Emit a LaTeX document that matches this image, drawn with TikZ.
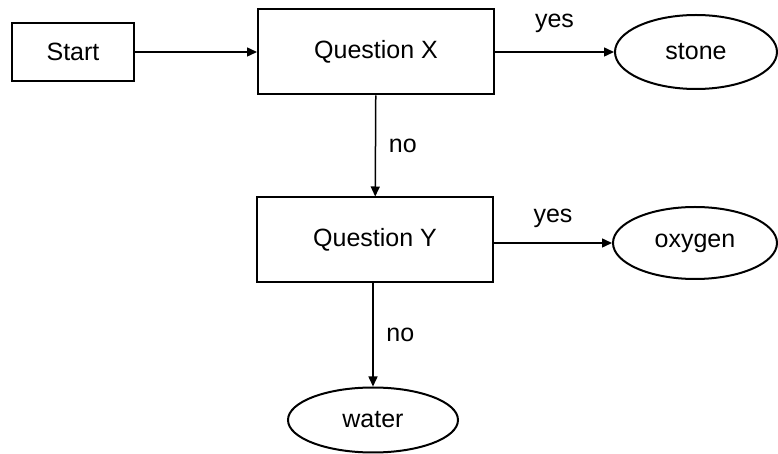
\documentclass[tikz,border=0pt]{standalone}
\usepackage{fontspec}
\setmainfont{Liberation Sans}
\usetikzlibrary{arrows.meta,shapes.geometric}

\tikzset{
  qbox/.style={draw,line width=1pt,minimum width=#1,minimum height=42.5pt,inner sep=0pt},
  answer/.style={draw,ellipse,line width=1pt,inner sep=0pt},
  flow/.style={line width=0.75pt,-{Triangle[length=5pt,width=4.5pt]}}
}

\begin{document}
\begin{tikzpicture}[x=0.5pt,y=-0.5pt,font=\fontsize{12.5}{15}\selectfont]
\useasboundingbox (0,0) rectangle (778,454);

 \node[qbox=61pt,minimum height=29pt] (start) at (73,52) {Start};
 \node[qbox=118pt] (qx) at (376,52) {Question X};
 \node[qbox=118pt] (qy) at (375,240) {Question Y};

 \node[answer,minimum width=81pt,minimum height=37pt] (stone) at (696,52) {stone};
 \node[answer,minimum width=82pt,minimum height=36pt] (oxygen) at (695,243) {oxygen};
 \node[answer,minimum width=85pt,minimum height=32.5pt] (water) at (373,420) {water};

 \draw[flow] (start) -- (qx);
 \draw[flow] (qx) -- node[above=6pt] {yes} (stone);
 \draw[flow] (qx) -- node[right=3pt] {no} (qy);
   
 \draw[flow] (qy.east |- oxygen) -- node[above=4pt] {yes} (oxygen);
 \draw[flow] (qy.south -| water) -- node[right=3pt] {no} (water);
\end{tikzpicture}
\end{document}
